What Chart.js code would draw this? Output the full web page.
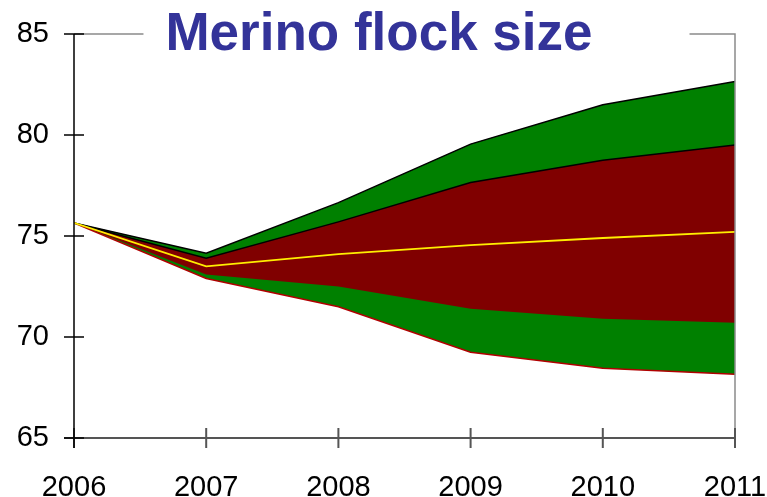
<!DOCTYPE html>
<html>
<head>
<meta charset="utf-8">
<script src="https://cdn.jsdelivr.net/npm/chart.js@4"></script>
<style>
  html, body { margin: 0; padding: 0; background: #fff; }
  #wrap { width: 767px; height: 497px; }
</style>
</head>
<body>
<div id="wrap"><canvas id="chart" width="767" height="497"></canvas></div>
<script>
// fan chart: projected flock size bands
const years = [2006, 2007, 2008, 2009, 2010, 2011];
const outerUpper = [75.65, 74.15, 76.65, 79.55, 81.5, 82.65];
const innerUpper = [75.65, 73.9, 75.7, 77.65, 78.75, 79.5];
const median = [75.65, 73.5, 74.1, 74.55, 74.9, 75.2];
const innerLower = [75.65, 73.1, 72.5, 71.4, 70.9, 70.7];
const outerLower = [75.65, 72.9, 71.5, 69.25, 68.45, 68.15];
const yTicks = [65, 70, 75, 80, 85];
const title = "Merino flock size";

const pts = (vals) => vals.map((v, i) => ({ x: years[i], y: v }));
const fontFamily = "'Liberation Sans', Arial, sans-serif";

const frame = {
  id: "frame",
  afterDatasetsDraw(chart) {
    const { ctx, chartArea: a, scales } = chart;
    const x = scales.x, y = scales.y;
    ctx.save();
    ctx.font = "bold 53px " + fontFamily;
    const tw = ctx.measureText(title).width;
    const tc = 379;

    // top and right frame, gray
    ctx.strokeStyle = "#8a8a8a";
    ctx.lineWidth = 1.5;
    ctx.beginPath();
    ctx.moveTo(a.left, a.top);
    ctx.lineTo(tc - tw / 2 - 22, a.top);
    ctx.moveTo(tc + tw / 2 + 97, a.top);
    ctx.lineTo(a.right, a.top);
    ctx.lineTo(a.right, a.bottom);
    ctx.stroke();

    // bottom axis with crossing ticks
    ctx.strokeStyle = "#555";
    ctx.lineWidth = 2;
    ctx.beginPath();
    ctx.moveTo(a.left - 10, a.bottom);
    ctx.lineTo(a.right, a.bottom);
    years.forEach((yr) => {
      const px = x.getPixelForValue(yr);
      ctx.moveTo(px, a.bottom - 10);
      ctx.lineTo(px, a.bottom + 10);
    });
    ctx.stroke();

    // left axis, black
    ctx.strokeStyle = "#000";
    ctx.lineWidth = 1.5;
    ctx.beginPath();
    ctx.moveTo(a.left, a.top);
    ctx.lineTo(a.left, a.bottom + 10);
    yTicks.forEach((t) => {
      const py = y.getPixelForValue(t);
      ctx.moveTo(a.left - 10, py);
      ctx.lineTo(a.left + 10, py);
    });
    ctx.stroke();

    // title
    ctx.fillStyle = "#333399";
    ctx.textAlign = "center";
    ctx.textBaseline = "alphabetic";
    ctx.fillText(title, tc, 50);
    ctx.restore();
  }
};

new Chart(document.getElementById("chart"), {
  type: "line",
  data: {
    datasets: [
      {
        label: "upper 90%",
        data: pts(outerUpper),
        borderColor: "#000",
        borderWidth: 1.5,
        backgroundColor: "#008000",
        fill: 1,
        order: 10
      },
      {
        label: "lower 90%",
        data: pts(outerLower),
        borderColor: "#b00000",
        borderWidth: 1.5,
        fill: false,
        order: 9
      },
      {
        label: "upper 50%",
        data: pts(innerUpper),
        borderColor: "#000",
        borderWidth: 1.5,
        backgroundColor: "#800000",
        fill: 3,
        order: 8
      },
      {
        label: "lower 50%",
        data: pts(innerLower),
        borderColor: "rgba(0,0,0,0)",
        borderWidth: 0,
        fill: false,
        order: 7
      },
      {
        label: "median",
        data: pts(median),
        borderColor: "#ffee00",
        borderWidth: 1.8,
        fill: false,
        order: 1
      }
    ]
  },
  options: {
    responsive: false,
    animation: false,
    layout: { padding: { top: 34, right: 32, left: 0, bottom: 0 } },
    elements: { point: { radius: 0 }, line: { tension: 0 } },
    plugins: {
      legend: { display: false },
      tooltip: { enabled: false },
      title: { display: false }
    },
    scales: {
      x: {
        type: "linear",
        min: 2006,
        max: 2011,
        grid: { display: false, drawTicks: false },
        border: { display: false },
        afterFit: (s) => { s.height = 59; s.paddingLeft = 0; s.paddingRight = 0; },
        ticks: {
          stepSize: 1,
          padding: 33,
          color: "#000",
          font: { family: fontFamily, size: 29 },
          callback: (v) => String(v),
          maxRotation: 0
        }
      },
      y: {
        min: 65,
        max: 85,
        grid: { display: false, drawTicks: false },
        border: { display: false },
        afterFit: (s) => { s.width = 74; s.paddingTop = 0; s.paddingBottom = 0; },
        afterBuildTicks: (s) => { s.ticks = yTicks.map((v) => ({ value: v })); },
        ticks: {
          padding: 25,
          color: "#000",
          font: { family: fontFamily, size: 29 }
        }
      }
    }
  },
  plugins: [frame]
});
</script>
</body>
</html>
